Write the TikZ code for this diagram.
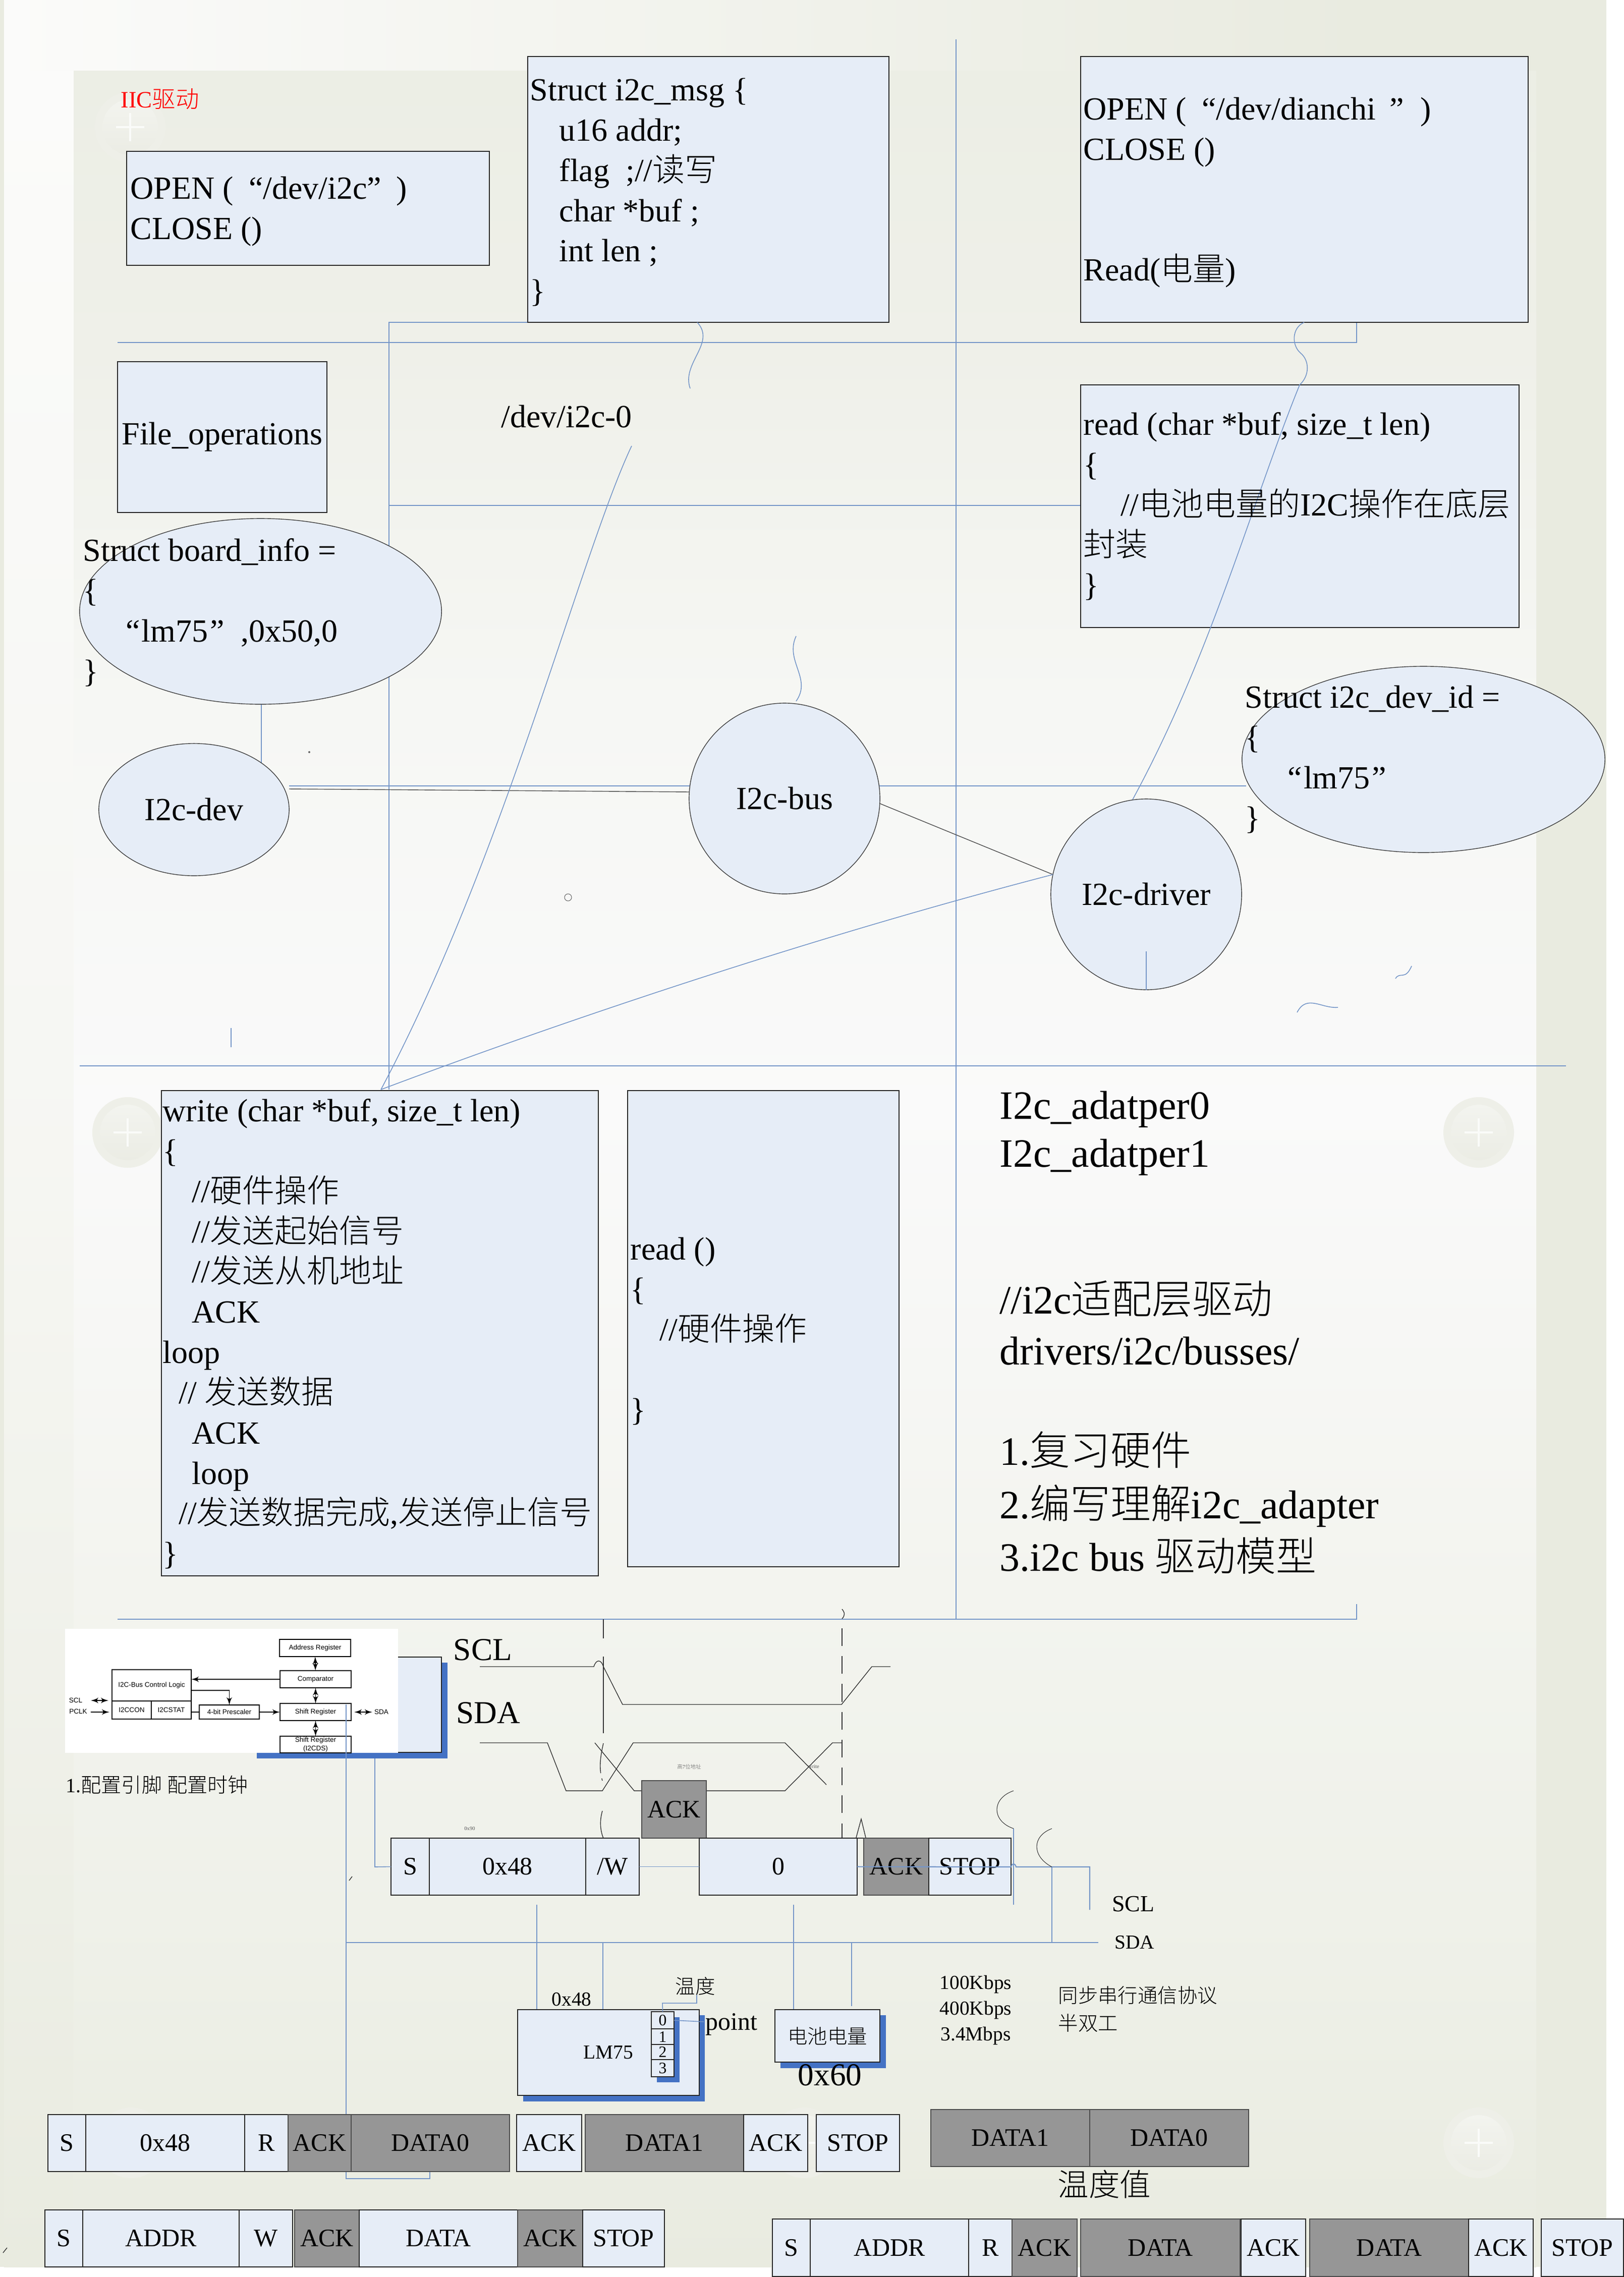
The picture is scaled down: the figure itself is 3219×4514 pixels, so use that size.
\documentclass[tikz,border=0pt]{standalone}
\usepackage{fontspec}
\usepackage{tikz}
\setmainfont{Liberation Serif}
\setsansfont{Liberation Sans}
\newfontfamily\cjk{Noto Sans CJK SC Light}
\usetikzlibrary{arrows}
\usetikzlibrary{shapes.geometric}
\definecolor{boxfill}{HTML}{E6EDF7}
\definecolor{cellgrey}{HTML}{969696}
\definecolor{linkblue}{HTML}{7596C8}
\definecolor{shadeblue}{HTML}{4472C4}
\definecolor{edgegreen}{HTML}{E9EBE0}
\definecolor{edgelight}{HTML}{FBFBFA}
\definecolor{ringgreen}{HTML}{EEEFE8}
\definecolor{ringtop}{HTML}{F3F4EF}
\definecolor{ringlow}{HTML}{EBECE4}
\pgfdeclareverticalshading{panelshade}{100bp}{%
  color(0bp)=(edgegreen); color(25bp)=(edgegreen);
  rgb(33bp)=(0.937,0.945,0.914);
  rgb(40.4bp)=(0.953,0.957,0.937);
  rgb(51.3bp)=(0.98,0.98,0.98);
  rgb(60.5bp)=(0.965,0.969,0.957);
  rgb(68.6bp)=(0.937,0.941,0.914);
  rgb(75bp)=(0.925,0.933,0.898);
  rgb(100bp)=(0.925,0.933,0.898)}
\newcommand\bigfont{\fontsize{18.2}{22.7}\selectfont}
\newcommand\sidefont{\fontsize{22.7}{28.3}\selectfont}
\newcommand\cellfont{\fontsize{14.2}{17}\selectfont}
\newcommand\smallfont{\fontsize{11.2}{14}\selectfont}
\newcommand\tinyfont{\fontsize{3}{4}\selectfont}
\newcommand\imgfont{\sffamily\fontsize{3.85}{4.6}\selectfont}
\newcommand\plusmark[2]{%
  \fill [ringgreen] (#1, #2) circle [radius=70];
  \shade [top color=ringtop, bottom color=ringlow] (#1, #2) circle [radius=55];
  \draw [white!60!ringtop, line width=1pt] (#1-28, #2) -- (#1+28, #2);
  \draw [white!60!ringtop, line width=1pt] (#1, #2-28) -- (#1, #2+28);}
\tikzset{rect/.style n args = {4}{at={({(#1+#3)/2}, {(#2+#4)/2})},
                                  minimum width={(#3-#1)*0.28453pt},
                                  minimum height={(#4-#2)*0.28453pt},
                                  inner sep=0, outer sep=0}}
\tikzset{txtbox/.style n args = {4}{rect={#1}{#2}{#3}{#4}, draw=black!85, fill=boxfill,
                                    line width=0.5pt, font=\bigfont}}
\tikzset{lightcell/.style n args = {4}{txtbox={#1}{#2}{#3}{#4}, font=\cellfont}}
\tikzset{greycell/.style n args = {4}{rect={#1}{#2}{#3}{#4}, draw=black!70, fill=cellgrey,
                                      line width=0.5pt, font=\cellfont}}
\tikzset{regcell/.style n args = {4}{txtbox={#1}{#2}{#3}{#4}, font=\fontsize{9}{10}\selectfont}}
\tikzset{imgcell/.style n args = {4}{rect={#1}{#2}{#3}{#4}, draw=black, fill=white,
                                     line width=0.4pt, font=\imgfont, align=center}}
\tikzset{oval/.style n args = {4}{ellipse, rect={#1}{#2}{#3}{#4}, draw=black!75, fill=boxfill,
                                  line width=0.4pt, font=\bigfont}}
\tikzset{code/.style = {anchor=north west, align=left, inner sep=0, font=\bigfont}}
\tikzset{label/.style = {inner sep=0, font=\smallfont}}
\tikzset{link/.style = {draw=linkblue, line width=0.45pt}}
\tikzset{wave/.style = {draw=black!80, line width=0.4pt}}
\tikzset{imgarrow/.style = {line width=0.5pt, latex'-latex'}}
\tikzset{imglabel/.style = {inner sep=0, font=\imgfont}}

\begin{document}
\begin{tikzpicture}[x=0.01cm, y=-0.01cm]
  \useasboundingbox (0, 0) rectangle (3219, 4514);

  % backdrop
  \fill [white] (0, 0) rectangle (3219, 4514);
  \fill [edgegreen] (0, 0) rectangle (3184, 4494);
  \shade [left color=edgelight, right color=edgegreen] (8, 0) rectangle (2700, 140);
  \shade [top color=edgelight, bottom color=edgegreen, middle color=edgelight!70!edgegreen] (8, 140) rectangle (146, 4494);
  \shade [shading=panelshade] (146, 140) rectangle (3045, 4494);
  \plusmark{258}{252}
  \plusmark{253}{2245}
  \plusmark{2931}{2245}
  \plusmark{260}{4248}
  \plusmark{1594}{4248}
  \plusmark{2931}{4248}

  \coordinate (topl) at (233, 679);
  \coordinate (topr) at (2689, 679);
  \coordinate (topc) at (2689, 639);
  \coordinate (midl) at (158, 2113);
  \coordinate (midr) at (3104, 2113);
  \coordinate (lowl) at (233, 3210);
  \coordinate (lowr) at (2689, 3210);
  \coordinate (lowc) at (2689, 3180);
  \coordinate (gridt) at (771, 639);
  \coordinate (gridb) at (771, 2160);
  \coordinate (gridm) at (771, 1002);
  \coordinate (splitt) at (1895, 78);
  \coordinate (splitb) at (1895, 3210);
  \coordinate (foot) at (755, 2160);
  \coordinate (busl) at (573, 1558);
  \coordinate (busr) at (2470, 1558);
  \coordinate (boardb) at (518, 1396);
  \coordinate (boardl) at (518, 1558);

  \draw [link] (topl) -- (topr) -- (topc);
  \draw [link] (midl) -- (midr);
  \draw [link] (lowl) -- (lowr) -- (lowc);
  \draw [link] (gridb) -- (gridt) -- (1046, 639);
  \draw [link] (gridm) -- (2142, 1002);
  \draw [link] (splitt) -- (splitb);
  \draw [link] (busl) -- (busr);
  \draw [link] (boardb) -- (boardl);
  \draw [draw=black!70, line width=0.4pt] (573, 1564) -- (1370, 1570);

  % upper half
  \node (openbox) [txtbox={251}{300}{970}{526}] {};
  \node (msgbox) [txtbox={1046}{112}{1762}{639}] {};
  \node (dianbox) [txtbox={2142}{112}{3029}{639}] {};
  \node (filebox) [txtbox={233}{717}{648}{1016}] {File\_operations};
  \node (readbox) [txtbox={2142}{763}{3011}{1244}] {};
  \node (writebox) [txtbox={320}{2162}{1186}{3124}] {};
  \node (hwbox) [txtbox={1244}{2162}{1782}{3106}] {};
  \node (boardinfo) [oval={158}{1028}{875}{1396}] {};
  \node (devid) [oval={2462}{1321}{3181}{1690}] {};
  \node (devnode) [oval={196}{1474}{573}{1736}] {I2c-dev};
  \node (busnode) [oval={1366}{1394}{1744}{1772}] {I2c-bus};
  \node (drvnode) [oval={2083}{1584}{2461}{1962}] {I2c-driver};

  \draw [draw=black!70, line width=0.4pt] (busnode.357) -- (drvnode.168);
  \draw [link] (drvnode.168) .. controls (1600, 1860) and (1100, 2030) .. (foot);
  \draw [link] (1252, 884) .. controls (1150, 1100) and (1000, 1700) .. (foot);
  \draw [link] (2585, 639) .. controls (2560, 650) and (2560, 685) .. (2578, 700)
    .. controls (2596, 715) and (2596, 745) .. (2576, 763)
    .. controls (2480, 1000) and (2400, 1300) .. (2245, 1585);
  \draw [link] (1382, 639) .. controls (1420, 680) and (1350, 720) .. (1368, 770);
  \draw [link] (1578, 1261) .. controls (1555, 1310) and (1610, 1345) .. (1578, 1390);
  \draw [link] (2272, 1886) -- (2272, 1963);
  \draw [link] (458, 2038) -- (458, 2076);
  \draw [link] (2571, 2007) .. controls (2590, 1970) and (2620, 2000) .. (2652, 1997);
  \draw [link] (2766, 1940) .. controls (2775, 1925) and (2785, 1945) .. (2798, 1915);
  \draw [draw=black!60, line width=0.3pt] (1126, 1779) circle [radius=7];
  \fill [black!60] (613, 1491) circle [radius=2];

  \node (iictitle) [anchor=west, inner sep=0, red, font=\fontsize{13.2}{15}\selectfont] at (239, 196) {IIC{\cjk 驱动}};
  \node (devpath) [inner sep=0, font=\bigfont] at (1123, 826) {/dev/i2c-0};
  \node (opentxt) [code] at (258, 338) {\strut OPEN (\hspace*{8.5pt}“/dev/i2c”\hspace*{8.5pt})\\CLOSE ()};
  \node (msgtxt) [code] at (1050, 143) {\strut Struct i2c\_msg \{\\
    \hspace*{16.5pt}u16 addr;\\
    \hspace*{16.5pt}flag\ \ ;//{\cjk 读写}\\
    \hspace*{16.5pt}char *buf ;\\
    \hspace*{16.5pt}int len ;\\
    \}};
  \node (diantxt) [code] at (2147, 181) {\strut OPEN (\hspace*{8.5pt}“/dev/dianchi\hspace*{8pt}”\hspace*{9pt})\\
    CLOSE ()\\
    \strut\\
    \strut\\
    Read({\cjk 电量})};
  \node (readtxt) [code] at (2147, 806) {\strut read (char *buf, size\_t len)\\
    \{\\
    \hspace*{21pt}//{\cjk 电池电量的}I2C{\cjk 操作在底层}\\
    {\cjk 封装}\\
    \}};
  \node (boardtxt) [code] at (164, 1056) {\strut Struct board\_info =\\
    \{\\
    \hspace*{24pt}“\hspace*{1pt}lm75\hspace*{1pt}”\hspace*{9.5pt},0x50,0\\
    \}};
  \node (idtxt) [code] at (2467, 1347) {\strut Struct i2c\_dev\_id =\\
    \{\\
    \hspace*{24pt}“\hspace*{1pt}lm75\hspace*{1pt}”\\
    \}};
  \node (writetxt) [code] at (322, 2167) {\strut write (char *buf, size\_t len)\\
    \{\\
    \hspace*{16.5pt}//{\cjk 硬件操作}\\
    \hspace*{16.5pt}//{\cjk 发送起始信号}\\
    \hspace*{16.5pt}//{\cjk 发送从机地址}\\
    \hspace*{16.5pt}ACK\\
    loop\\
    \hspace*{9pt}// {\cjk 发送数据}\\
    \hspace*{16.5pt}ACK\\
    \hspace*{16.5pt}loop\\
    \hspace*{9pt}//{\cjk 发送数据完成},{\cjk 发送停止信号}\\
    \}};
  \node (hwtxt) [code] at (1249, 2441) {\strut read ()\\
    \{\\
    \hspace*{16.5pt}//{\cjk 硬件操作}\\
    \strut\\
    \}};
  \node (sidetxt) [code, font=\sidefont] at (1981, 2148) {\strut I2c\_adatper0\\[-1.3pt]
    I2c\_adatper1\\
    \strut\\[-2.2pt]
    \strut\\
    //i2c{\cjk 适配层驱动}\\[0.4pt]
    drivers/i2c/busses/\\
    \strut\\
    1.{\cjk 复习硬件}\\[2pt]
    2.{\cjk 编写理解}i2c\_adapter\\[1.2pt]
    3.i2c bus {\cjk 驱动模型}};

  % timing
  \draw [draw=black!80, line width=0.4pt] (1196, 3210) -- (1196, 3248);
  \draw [draw=black!80, line width=0.4pt] (1196, 3284) -- (1196, 3436);
  \draw [draw=black!80, line width=0.4pt, dash pattern=on 17pt off 3pt] (1196, 3456)
    .. controls (1188, 3490) and (1188, 3510) .. (1194, 3530);
  \draw [draw=black!80, line width=0.4pt] (1194, 3590) .. controls (1188, 3610) and (1190, 3630) .. (1196, 3644);
  \draw [draw=black!80, line width=0.4pt] (1669, 3190) .. controls (1675, 3197) and (1675, 3203) .. (1669, 3209);
  \draw [draw=black!80, line width=0.45pt, dash pattern=on 10pt off 5.7pt] (1669, 3228) -- (1669, 3643);
  \draw [wave] (951, 3304) -- (1177, 3304) .. controls (1182, 3288) and (1192, 3290) .. (1196, 3304)
    -- (1234, 3379) -- (1668, 3379) -- (1728, 3304) -- (1765, 3304);
  \draw [wave] (951, 3455) -- (1085, 3455) -- (1122, 3550) -- (1194, 3550) -- (1255, 3455)
    -- (1556, 3455) -- (1638, 3538);
  \draw [wave] (1179, 3455) -- (1257, 3550) -- (1556, 3550) -- (1650, 3455) -- (1668, 3455);
  \draw [wave] (1697, 3643) -- (1707, 3606) -- (1716, 3643);
  \draw [wave] (1669, 3644) -- (1745, 3644);
  \draw [wave] (692, 3728) -- (698, 3720);
  \draw [wave] (6, 4466) -- (14, 4456);
  \node (highbits) [label, font=\tinyfont, text=black!65] at (1366, 3502) {{\cjk 高}7{\cjk 位地址}};
  \node (wrbit) [label, font=\tinyfont, text=black!65] at (1613, 3502) {write};
  \node (addrnote) [label, font=\tinyfont, text=black!65] at (931, 3625) {0x90};
  \node (sclbig) [label, font=\fontsize{18}{20}\selectfont] at (957, 3271) {SCL};
  \node (sdabig) [label, font=\fontsize{18}{20}\selectfont] at (968, 3396) {SDA};

  % controller block
  \fill [shadeblue] (509, 3475) rectangle (887, 3486);
  \fill [shadeblue] (875, 3296) rectangle (887, 3486);
  \node (ctlbody) [txtbox={700}{3285}{875}{3474}] {};
  \fill [white] (129, 3229) rectangle (789, 3475);
  \node (addrreg) [imgcell={554}{3250}{695}{3284}] {Address Register};
  \node (compreg) [imgcell={555}{3312}{696}{3346}] {Comparator};
  \node (shiftreg) [imgcell={555}{3377}{696}{3411}] {Shift Register};
  \node (dsreg) [imgcell={555}{3442}{696}{3475}] {Shift Register\\(I2CDS)};
  \node (ctrl) [imgcell={222}{3310}{379}{3372}] {I2C-Bus Control Logic};
  \node (conreg) [imgcell={222}{3372}{300}{3408}] {I2CCON};
  \node (statreg) [imgcell={300}{3372}{379}{3408}] {I2CSTAT};
  \node (presc) [imgcell={395}{3380}{514}{3408}] {4-bit Prescaler};
  \node (imgscl) [imglabel] at (150, 3371) {SCL};
  \node (imgpclk) [imglabel] at (155, 3393) {PCLK};
  \node (imgsda) [imglabel] at (756, 3394) {SDA};
  \coordinate (sclto) at (215, 3371);
  \coordinate (sclfrom) at (180, 3371);
  \coordinate (pclkto) at (217, 3394);
  \coordinate (pclkfrom) at (180, 3394);
  \coordinate (sdato) at (738, 3394);
  \coordinate (sdafrom) at (702, 3394);
  \coordinate (ctrlout) at (379, 3351);
  \draw [imgarrow] (addrreg) -- (compreg);
  \draw [imgarrow] (compreg) -- (shiftreg);
  \draw [imgarrow] (shiftreg) -- (dsreg);
  \draw [imgarrow] (sclfrom) -- (sclto);
  \draw [imgarrow] (sdafrom) -- (sdato);
  \draw [imgarrow, latex'-] (pclkto) -- (pclkfrom);
  \draw [imgarrow, -latex'] (compreg.west) -- (compreg.west -| ctrl.east);
  \draw [imgarrow, -latex'] (ctrlout) -| (presc.north);
  \draw [imgarrow, -latex'] (presc.east) -- (shiftreg.west);
  \draw [line width=0.5pt] (presc.west) -- (presc.west -| statreg.east);
  \node (pinnote) [anchor=west, inner sep=0, font=\fontsize{11.4}{13}\selectfont] at (130, 3538) {1.{\cjk 配置引脚} {\cjk 配置时钟}};

  % first frame
  \node (ackup) [greycell={1272}{3530}{1400}{3644}] {ACK};
  \node (rfs) [lightcell={775}{3644}{851}{3757}] {S};
  \node (rfaddr) [lightcell={851}{3644}{1161}{3757}] {0x48};
  \node (rfw) [lightcell={1161}{3644}{1267}{3757}] {/W};
  \node (rfzero) [lightcell={1386}{3644}{1699}{3757}] {0};
  \node (rfack) [greycell={1712}{3644}{1841}{3757}] {ACK};
  \node (rfstop) [lightcell={1841}{3644}{2004}{3757}] {STOP};

  % bus
  \coordinate (sdal) at (686, 3851);
  \coordinate (sdar) at (2177, 3851);
  \coordinate (sclr) at (2160, 3701);
  \coordinate (scld) at (2160, 3786);
  \coordinate (ctlout) at (743, 3486);
  \coordinate (ctlin) at (743, 3701);
  \coordinate (hookl) at (2009, 3625);
  \coordinate (hookld) at (2009, 3776);
  \coordinate (hookr) at (2085, 3701);
  \coordinate (hookrd) at (2085, 3851);
  \coordinate (sdatop) at (686, 3379);
  \coordinate (jumpa) at (686, 4305);
  \coordinate (jumpb) at (686, 4319);
  \coordinate (jumpc) at (852, 4319);
  \coordinate (jumpd) at (852, 4305);
  \draw [link] (ctlout) -- (ctlin) -- (rfs.west);
  \draw [link] (rfw.east) -- (rfzero.west);
  \draw [link, line width=0.6pt] (rfzero.east) -- (2004, 3701) .. controls (2006, 3693) and (2012, 3693) .. (2014, 3701)
    -- (sclr) -- (scld);
  \draw [link] (hookl) -- (hookld);
  \draw [link] (hookr) -- (hookrd);
  \draw [link, line width=0.6pt] (sdal) -- (sdar);
  \draw [link] (sdatop) -- (686, 4192);
  \draw [link] (jumpa) -- (jumpb) -- (jumpc) -- (jumpd);
  \draw [draw=black!80, line width=0.3pt] (hookl) .. controls (1965, 3610) and (1965, 3565) .. (2009, 3550);
  \draw [draw=black!80, line width=0.3pt] (hookr) .. controls (2045, 3680) and (2045, 3640) .. (2085, 3625);
  \node (sclside) [label, font=\fontsize{13}{15}\selectfont] at (2246, 3775) {SCL};
  \node (sdaside) [label] at (2249, 3851) {SDA};

  \draw [link] (1064, 3776) -- (1064, 3984);
  \draw [link] (1195, 3851) -- (1195, 3984);
  \draw [link] (1573, 3776) -- (1573, 3984);
  \draw [link] (1688, 3851) -- (1688, 3977);

  % chips
  \fill [shadeblue] (1037, 3995) rectangle (1397, 4166);
  \node (lmbox) [txtbox={1026}{3984}{1386}{4154}, font=\smallfont] {LM75};
  \fill [shadeblue] (1302, 3999) rectangle (1347, 4128);
  \node (reg0) [regcell={1291}{3988}{1336}{4022}] {0};
  \node (reg1) [regcell={1291}{4022}{1336}{4053}] {1};
  \node (reg2) [regcell={1291}{4053}{1336}{4083}] {2};
  \node (reg3) [regcell={1291}{4083}{1336}{4117}] {3};
  \coordinate (tempa) at (1313, 3971);
  \coordinate (tempb) at (1381, 3971);
  \coordinate (tempc) at (1381, 3955);
  \coordinate (pointa) at (1395, 4008);
  \draw [link] (reg0.north) -- (tempa) -- (tempb) -- (tempc);
  \draw [link] (reg0.east) -- (pointa);
  \node (lmaddr) [label] at (1133, 3964) {0x48};
  \node (tempnote) [label] at (1378, 3937) {\cjk 温度};
  \node (pointnote) [label, anchor=west, font=\cellfont] at (1398, 4013) {point};
  \fill [shadeblue] (1547, 3995) rectangle (1756, 4100);
  \node (batbox) [txtbox={1536}{3984}{1744}{4088}, font=\smallfont] {\cjk 电池电量};
  \node (bataddr) [label, font=\fontsize{18}{20}\selectfont] at (1645, 4114) {0x60};
  \node (rate) [label, align=center] at (1934, 3985) {100Kbps\\[0.6pt]400Kbps\\[0.6pt]3.4Mbps};
  \node (proto) [label, anchor=west, align=left] at (2097, 3983) {{\cjk 同步串行通信协议}\\[1.5pt]{\cjk 半双工}};

  % frames
  \node (ras) [lightcell={95}{4192}{170}{4305}] {S};
  \node (raaddr) [lightcell={170}{4192}{485}{4305}] {0x48};
  \node (rar) [lightcell={485}{4192}{571}{4305}] {R};
  \node (raack) [greycell={571}{4192}{696}{4305}] {ACK};
  \node (rad0) [greycell={696}{4192}{1010}{4305}] {DATA0};
  \node (raacka) [lightcell={1024}{4192}{1153}{4305}] {ACK};
  \node (rad1) [greycell={1160}{4192}{1474}{4305}] {DATA1};
  \node (raackb) [lightcell={1474}{4192}{1601}{4305}] {ACK};
  \node (rastop) [lightcell={1618}{4192}{1783}{4305}] {STOP};

  \node (tempd1) [greycell={1845}{4182}{2160}{4295}] {DATA1};
  \node (tempd0) [greycell={2160}{4182}{2475}{4295}] {DATA0};
  \node (tempval) [label, font=\fontsize{17.5}{20}\selectfont] at (2189, 4330) {\cjk 温度值};

  \node (rbs) [lightcell={89}{4381}{164}{4494}] {S};
  \node (rbaddr) [lightcell={164}{4381}{474}{4494}] {ADDR};
  \node (rbw) [lightcell={474}{4381}{580}{4494}] {W};
  \node (rback) [greycell={584}{4381}{712}{4494}] {ACK};
  \node (rbdata) [lightcell={712}{4381}{1026}{4494}] {DATA};
  \node (rbacka) [greycell={1026}{4381}{1155}{4494}] {ACK};
  \node (rbstop) [lightcell={1155}{4381}{1317}{4494}] {STOP};

  \node (rcs) [lightcell={1531}{4399}{1606}{4513}] {S};
  \node (rcaddr) [lightcell={1606}{4399}{1920}{4513}] {ADDR};
  \node (rcr) [lightcell={1920}{4399}{2006}{4513}] {R};
  \node (rcack) [greycell={2006}{4399}{2135}{4513}] {ACK};
  \node (rcd0) [greycell={2142}{4399}{2458}{4513}] {DATA};
  \node (rcacka) [lightcell={2460}{4399}{2588}{4513}] {ACK};
  \node (rcd1) [greycell={2596}{4399}{2911}{4513}] {DATA};
  \node (rcackb) [lightcell={2911}{4399}{3039}{4513}] {ACK};
  \node (rcstop) [lightcell={3055}{4399}{3218}{4513}] {STOP};
\end{tikzpicture}
\end{document}
